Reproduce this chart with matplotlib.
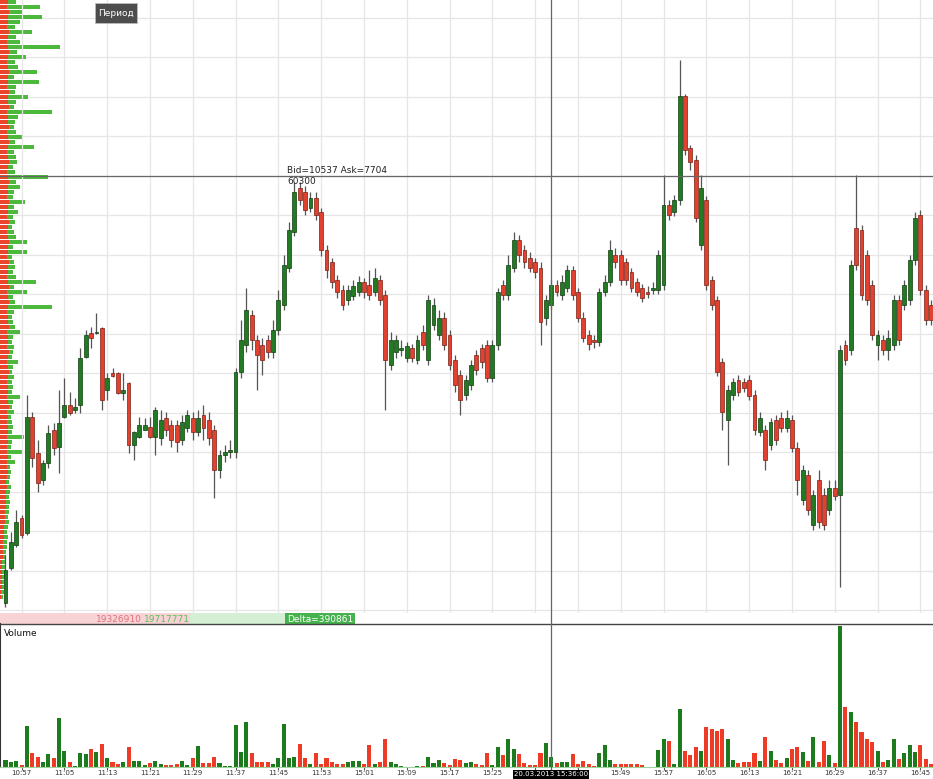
import numpy as np
import matplotlib.pyplot as plt
from matplotlib.lines import Line2D
from matplotlib.patches import Rectangle

# 1-minute candles (price in index points)
opens = [397, 432, 455, 482, 467, 583, 547, 520, 537, 570,
         553, 583, 595, 590, 595, 643, 667, 667, 672, 610,
         627, 627, 607, 617, 555, 563, 570, 573, 563, 562,
         582, 575, 575, 560, 572, 582, 568, 585, 580, 570,
         530, 545, 548, 548, 628, 655, 685, 660, 655, 660,
         648, 670, 695, 732, 768, 812, 808, 792, 802, 788,
         750, 738, 720, 710, 700, 704, 708, 718, 715, 708,
         720, 705, 635, 648, 650, 642, 652, 640, 668, 640,
         675, 665, 682, 665, 640, 625, 605, 615, 645, 652,
         655, 622, 655, 715, 705, 732, 760, 750, 742, 738,
         732, 682, 695, 715, 705, 712, 730, 708, 682, 665,
         660, 658, 708, 718, 745, 745, 738, 728, 718, 712,
         708, 710, 710, 715, 795, 788, 800, 904, 852, 840,
         755, 800, 720, 700, 638, 580, 605, 620, 618, 620,
         605, 568, 570, 555, 580, 582, 572, 580, 552, 500,
         525, 475, 520, 505, 490, 512, 505, 655, 650, 772,
         770, 745, 715, 655, 660, 650, 655, 700, 695, 700,
         740, 785, 710, 695]
closes = [430, 458, 478, 465, 583, 542, 517, 537, 567, 552,
          577, 595, 587, 593, 642, 665, 662, 668, 600, 622,
          624, 607, 610, 555, 568, 575, 575, 563, 590, 580,
          570, 560, 558, 578, 585, 568, 582, 572, 562, 530,
          545, 548, 550, 628, 660, 690, 660, 645, 640, 648,
          670, 700, 735, 770, 808, 800, 790, 802, 785, 750,
          730, 718, 708, 695, 710, 714, 718, 708, 705, 722,
          700, 640, 660, 660, 652, 654, 642, 660, 655, 700,
          695, 682, 655, 635, 615, 600, 620, 635, 630, 638,
          622, 655, 708, 705, 735, 760, 745, 738, 732, 728,
          678, 700, 715, 708, 718, 730, 705, 682, 662, 656,
          658, 708, 718, 750, 738, 720, 720, 712, 708, 702,
          706, 712, 745, 795, 785, 800, 904, 850, 838, 782,
          812, 715, 695, 628, 588, 610, 618, 608, 612, 604,
          570, 582, 540, 578, 560, 572, 582, 552, 520, 530,
          490, 505, 478, 475, 512, 504, 650, 640, 735, 735,
          705, 700, 665, 665, 650, 662, 700, 660, 715, 740,
          782, 710, 680, 680]
highs = [445, 468, 490, 485, 605, 588, 560, 540, 575, 577,
         610, 622, 608, 602, 652, 670, 673, 687, 673, 627,
         632, 628, 627, 618, 569, 583, 582, 583, 593, 590,
         588, 580, 580, 585, 590, 588, 590, 595, 588, 575,
         550, 555, 560, 632, 680, 712, 690, 665, 662, 665,
         680, 710, 745, 778, 818, 818, 814, 808, 808, 792,
         755, 742, 725, 715, 715, 720, 724, 722, 730, 732,
         725, 710, 668, 665, 660, 658, 656, 665, 675, 705,
         702, 690, 688, 670, 645, 630, 625, 640, 650, 656,
         660, 660, 712, 720, 745, 768, 765, 755, 748, 742,
         738, 705, 720, 720, 725, 735, 734, 712, 688, 670,
         665, 712, 725, 760, 752, 750, 742, 732, 722, 716,
         714, 718, 750, 825, 800, 805, 940, 906, 855, 845,
         825, 804, 724, 704, 642, 615, 622, 625, 622, 625,
         610, 588, 575, 582, 585, 588, 590, 585, 558, 535,
         530, 510, 530, 512, 520, 520, 655, 660, 740, 825,
         775, 750, 720, 670, 665, 670, 705, 705, 720, 745,
         788, 790, 715, 700]
lows = [393, 430, 453, 462, 465, 533, 508, 515, 532, 545,
        527, 582, 585, 587, 587, 642, 652, 666, 590, 600,
        623, 606, 600, 547, 540, 562, 570, 562, 545, 555,
        564, 553, 548, 555, 568, 560, 564, 560, 555, 502,
        522, 538, 542, 542, 622, 648, 650, 610, 625, 642,
        642, 665, 690, 728, 764, 795, 785, 788, 780, 744,
        722, 712, 702, 690, 695, 700, 704, 702, 700, 704,
        695, 590, 630, 642, 644, 638, 638, 636, 650, 635,
        670, 660, 650, 630, 608, 585, 600, 610, 625, 632,
        618, 618, 650, 700, 700, 728, 738, 732, 728, 722,
        655, 675, 690, 704, 700, 708, 700, 678, 658, 650,
        652, 654, 704, 714, 732, 715, 715, 708, 704, 698,
        702, 706, 706, 710, 780, 784, 795, 845, 830, 778,
        750, 710, 690, 624, 570, 535, 600, 604, 608, 600,
        565, 564, 530, 550, 555, 568, 568, 548, 505, 495,
        485, 470, 472, 470, 485, 500, 413, 635, 645, 730,
        700, 695, 660, 640, 645, 640, 650, 655, 690, 695,
        735, 705, 675, 675]
volumes = [7, 5, 6, 2, 41, 14, 10, 5, 13, 9,
           49, 16, 5, 1, 14, 13, 18, 15, 23, 9,
           5, 3, 5, 20, 6, 6, 2, 4, 6, 3,
           2, 2, 3, 6, 2, 9, 21, 4, 4, 10,
           4, 1, 1, 42, 15, 45, 14, 5, 5, 5,
           3, 9, 43, 9, 10, 23, 9, 3, 14, 3,
           9, 5, 3, 3, 5, 6, 6, 3, 22, 3,
           5, 28, 5, 3, 1, 0.5, 0.5, 1, 1, 10,
           4, 7, 4, 2, 8, 7, 4, 5, 3, 2,
           14, 2, 20, 12, 28, 18, 13, 4, 2, 2,
           14, 24, 10, 4, 5, 5, 13, 3, 6, 3,
           1, 14, 22, 7, 3, 3, 3, 3, 3, 2,
           0.5, 0.5, 17, 28, 26, 3, 58, 16, 12, 20,
           16, 40, 38, 36, 38, 28, 7, 4, 5, 5,
           14, 6, 30, 16, 7, 4, 9, 18, 20, 15,
           6, 30, 5, 26, 12, 4, 141, 60, 55, 45,
           35, 28, 25, 16, 5, 7, 28, 8, 14, 22,
           15, 22, 8, 3]

tick_labels = ["10:57", "11:05", "11:13", "11:21", "11:29", "11:37", "11:45", "11:53",
               "15:01", "15:09", "15:17", "15:25", "15:33", "15:41", "15:49", "15:57",
               "16:05", "16:13", "16:21", "16:29", "16:37", "16:45"]
cursor_index = 102
cursor_label = '20.03.2013 15:36:00'

# volume profile on the left edge (top level first, 5 points per level)
profile_bid = [8, 7, 9, 8, 8, 7, 9, 8, 7, 8, 9, 8, 7, 8, 9, 8, 8, 7, 9, 8,
               8, 9, 7, 8, 8, 9, 7, 8, 9, 8, 7, 8, 9, 8, 7, 8, 9, 8, 8, 7,
               9, 8, 8, 7, 9, 8, 7, 8, 9, 8, 8, 7, 9, 8, 8, 7, 8, 9, 7, 8,
               9, 8, 7, 8, 8, 9, 7, 8, 8, 7, 9, 8, 7, 8, 9, 8, 7, 8, 8, 7,
               8, 9, 7, 8, 7, 8, 8, 7, 8, 7, 7, 8, 7, 7, 8, 7, 6, 7, 6, 6,
               6, 6, 5, 5, 5, 4, 4, 4, 3, 3, 3, 3, 2, 2, 2, 2, 2, 2, 1, 1]
profile_ask = [8, 33, 13, 34, 12, 8, 23, 8, 13, 52, 8, 18, 8, 10, 28, 6, 31, 9, 6, 20,
               8, 5, 45, 10, 7, 5, 9, 15, 6, 26, 7, 8, 8, 5, 8, 40, 7, 12, 6, 6,
               16, 6, 10, 6, 6, 4, 7, 8, 18, 5, 19, 5, 5, 7, 5, 9, 28, 5, 20, 5,
               6, 44, 7, 4, 5, 6, 13, 5, 4, 7, 4, 4, 11, 5, 3, 6, 5, 5, 4, 13,
               5, 3, 7, 3, 5, 5, 4, 17, 4, 4, 16, 3, 8, 3, 3, 3, 3, 4, 4, 3,
               4, 3, 4, 3, 4, 4, 3, 4, 4, 4, 3, 3, 3, 4, 3, 3, 2, 2, 3, 2]
profile_top = 998

bid_total = 19326910
ask_total = 19717771

W, H = 933, 779
fig = plt.figure(figsize=(W / 100, H / 100), dpi=100)
fig.patch.set_facecolor('white')


def px_axes(x0, y0, x1, y1):
    return fig.add_axes([x0 / W, 1 - y1 / H, (x1 - x0) / W, (y1 - y0) / H])


step = 5.35
xlim = (-5.5 / step, (W - 5.5) / step)
ylim = (387, 1000)
idx = np.arange(len(opens))
ticks = np.arange(3, len(opens), 8)[:len(tick_labels)]

o = np.array(opens, float)
c = np.array(closes, float)
up = c >= o
green, red = '#227a22', '#e2412f'
cols = np.where(up, green, red)
edges = np.where(up, '#103d10', '#7a2016')

# background grid + profile
ax_p = px_axes(0, 0, W, 613)
ax_p.set_axis_off()
ax_p.set_xlim(0, W)
ax_p.set_ylim(*ylim)
grid_c = '#e6e6e6'
for p in np.linspace(390, 982, 16):
    ax_p.axhline(p, color=grid_c, lw=0.9, zorder=0)
levels = profile_top - 5 * np.arange(len(profile_bid))
ax_p.barh(levels, profile_bid, height=4.2, color='#e8452c', zorder=2)
ax_p.barh(levels, profile_ask, left=profile_bid, height=4.2, color='#4cb83c', zorder=2)

# candles
ax = px_axes(0, 0, W, 613)
ax.patch.set_alpha(0)
ax.set_axis_off()
ax.set_xlim(*xlim)
ax.set_ylim(*ylim)
for t in ticks:
    ax.axvline(t, color=grid_c, lw=0.9, zorder=0)
ax.vlines(idx, lows, highs, color='#555555', lw=0.9, zorder=2)
ax.bar(idx, np.maximum(np.abs(c - o), 1.2), bottom=np.minimum(o, c), width=0.72,
       color=cols, edgecolor=edges, lw=0.5, zorder=3)
ax.axhline(824, color='#666666', lw=0.9, zorder=4)
ax.text(0.3075, 0.722, 'Bid=10537 Ask=7704', transform=ax.transAxes, fontsize=6.5,
        color='#222222', va='center')
ax.text(0.3075, 0.704, '60300', transform=ax.transAxes, fontsize=6.5,
        color='#222222', va='center')

# period button
fig.patches.append(Rectangle((95 / W, 1 - 23 / H), 42 / W, 20 / H, transform=fig.transFigure,
                             facecolor='#4d4d4d', edgecolor='#bbbbbb', lw=0.6))
fig.text(116 / W, 1 - 13 / H, 'Период', color='white', fontsize=6.5, ha='center', va='center')

# bid / ask / delta strip
ax_d = px_axes(0, 613, W, 624)
ax_d.set_axis_off()
ax_d.set_xlim(0, W)
ax_d.set_ylim(0, 1)
ax_d.add_patch(Rectangle((0, 0), 190, 1, color='#f8d3d6', lw=0))
ax_d.add_patch(Rectangle((190, 0), 95, 1, color='#d5efd5', lw=0))
ax_d.add_patch(Rectangle((285, 0), 70, 1, color='#45b24d', lw=0))
ax_d.text(142, 0.45, f'{bid_total}', color='#e0707c', fontsize=6.5, ha='right', va='center')
ax_d.text(144, 0.45, f'{ask_total}', color='#5cbf5c', fontsize=6.5, ha='left', va='center')
ax_d.text(320, 0.45, f'Delta={ask_total - bid_total}', color='white', fontsize=6.5,
          ha='center', va='center')

# volume panel
ax_v = px_axes(0, 624, W, 767)
ax_v.set_xlim(*xlim)
ax_v.set_ylim(0, 143)
ax_v.bar(idx, volumes, width=0.75, color=np.where(up, '#1d7a1d', '#ee3b26'), zorder=2)
for s in ['top', 'right']:
    ax_v.spines[s].set_visible(False)
ax_v.spines['left'].set_color('#333333')
ax_v.spines['left'].set_linewidth(1.5)
ax_v.spines['bottom'].set_color('#9bd59b')
ax_v.set_yticks([])
ax_v.set_xticks(ticks)
# labels under the cursor date box are hidden by it
shown = [lab if abs(t - cursor_index) > 8 else '' for t, lab in zip(ticks, tick_labels)]
ax_v.set_xticklabels(shown)
ax_v.tick_params(axis='x', length=2, width=0.8, color='#555555', labelsize=5,
                 labelcolor='#333333', pad=0.2)
ax_v.text(0.004, 0.935, 'Volume', transform=ax_v.transAxes, fontsize=6.5, va='center',
          color='#111111')

# panel separator and vertical cross-hair
fig.add_artist(Line2D([0, 1], [1 - 624 / H] * 2, color='#444444', lw=1))
cx = (cursor_index * step + 5.5) / W
fig.add_artist(Line2D([cx, cx], [1 - 771 / H, 1], color='#666666', lw=0.9))
fig.text(cx, 1 - 777.5 / H, cursor_label, color='white', fontsize=5,
         ha='center', va='bottom',
         bbox=dict(facecolor='black', edgecolor='none', pad=0.8))

fig.savefig('out.png', dpi=100)
